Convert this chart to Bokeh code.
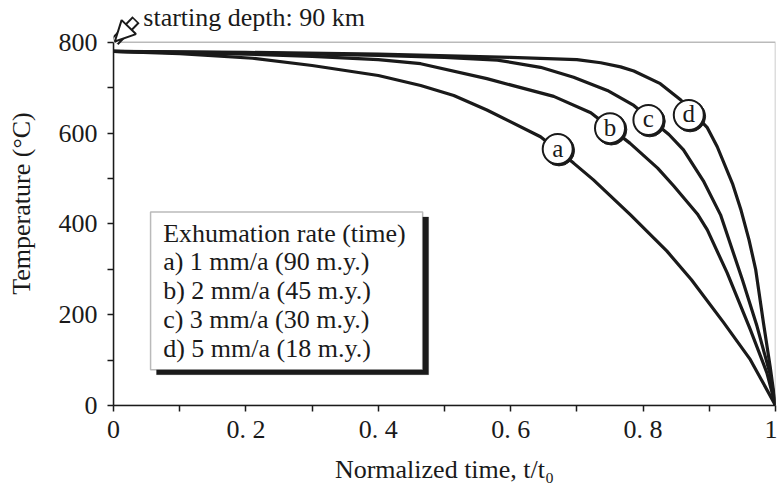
from bokeh.plotting import figure
from bokeh.models import (FixedTicker, Label, Arrow, NormalHead, BoxAnnotation,
                          Range1d, ColumnDataSource)
from bokeh.transform import dodge
from bokeh.core.properties import value
from bokeh.embed import file_html
from bokeh.resources import INLINE

# ---- data ----
t_a = [0, 0.1, 0.21, 0.30, 0.40, 0.464, 0.514, 0.564, 0.645, 0.695, 0.725,
       0.781, 0.836, 0.873, 0.922, 0.962, 1.0]
T_a = [780, 775, 765, 749, 727, 705, 683, 651, 592, 534, 497,
       420, 340, 277, 182, 101, 0]

t_b = [0, 0.2, 0.3, 0.4, 0.464, 0.564, 0.665, 0.721, 0.780, 0.822, 0.846,
       0.882, 0.897, 0.927, 0.962, 0.987, 1.0]
T_b = [780, 774, 769, 762, 753, 720, 681, 645, 578, 523, 484,
       422, 387, 292, 167, 72, 0]

t_c = [0, 0.2, 0.4, 0.5, 0.58, 0.645, 0.695, 0.746, 0.786, 0.839, 0.861,
       0.891, 0.917, 0.95, 0.972, 0.992, 1.0]
T_c = [780, 777, 771, 767, 761, 745, 723, 694, 661, 597, 563,
       495, 420, 277, 175, 68, 0]

t_d = [0, 0.2, 0.4, 0.6, 0.70, 0.736, 0.766, 0.786, 0.826, 0.857, 0.897,
       0.912, 0.935, 0.948, 0.96, 0.97, 0.982, 0.992, 1.0]
T_d = [780, 778, 774, 767, 762, 755, 746, 737, 709, 673, 612,
       570, 489, 430, 365, 300, 180, 85, 0]

curve_tags = ["a", "b", "c", "d"]
tag_x = [0.671, 0.750, 0.808, 0.869]
tag_y = [565, 611, 629, 640]

legend_title = "Exhumation rate (time)"
legend_entries = ["a) 1 mm/a (90 m.y.)", "b) 2 mm/a (45 m.y.)",
                  "c) 3 mm/a (30 m.y.)", "d) 5 mm/a (18 m.y.)"]

xtick_vals = [0, 0.2, 0.4, 0.6, 0.8, 1.0]
xtick_labels = ["0", "0. 2", "0. 4", "0. 6", "0. 8", "1"]
xminor_vals = [0.1, 0.3, 0.5, 0.7, 0.9]
ytick_vals = [0, 200, 400, 600, 800]
yminor_vals = [100, 300, 500, 700]
y_max = 800

annotation_text = "starting depth: 90 km"

FONT = "Liberation Serif"
INK = "#1a1a1a"

p = figure(width=777, height=486, output_backend="svg", toolbar_location=None,
           x_range=Range1d(0, 1), y_range=Range1d(0, 890),
           min_border_left=113, min_border_right=2, min_border_top=1,
           min_border_bottom=80)

p.background_fill_color = "white"
p.border_fill_color = "white"
p.outline_line_color = None
p.xgrid.grid_line_color = None
p.ygrid.grid_line_color = None

p.xaxis.ticker = FixedTicker(ticks=xtick_vals, minor_ticks=xminor_vals)
p.xaxis.major_label_overrides = {v: s for v, s in zip(xtick_vals, xtick_labels)}
p.yaxis.ticker = FixedTicker(ticks=ytick_vals, minor_ticks=yminor_vals)
p.yaxis.bounds = (0, y_max)

for ax in (p.xaxis[0], p.yaxis[0]):
    ax.axis_line_color = INK
    ax.axis_line_width = 1.5
    ax.major_tick_line_color = INK
    ax.minor_tick_line_color = INK
    ax.major_tick_line_width = 1.5
    ax.minor_tick_line_width = 1.5
    ax.major_tick_in = 0
    ax.major_tick_out = 6
    ax.minor_tick_in = 0
    ax.minor_tick_out = 6
    ax.major_label_text_font = FONT
    ax.major_label_text_font_size = "26px"
    ax.major_label_text_color = INK
    ax.axis_label_text_font = FONT
    ax.axis_label_text_font_size = "26px"
    ax.axis_label_text_font_style = "normal"
    ax.axis_label_text_color = INK

p.xaxis.axis_label = "Normalized time, t/t\u2080"
p.yaxis.axis_label = "Temperature (\u00b0C)"
p.xaxis.major_label_standoff = 3
p.xaxis.axis_label_standoff = 8
p.yaxis.major_label_standoff = 10
p.yaxis.axis_label_standoff = 20

# plot box (top and right edges at the data limits)
p.add_layout(BoxAnnotation(left=0, right=1, bottom=0, top=y_max,
                           fill_alpha=0, line_color=INK, line_width=1.5))

# curves
for tx, ty in ((t_a, T_a), (t_b, T_b), (t_c, T_c), (t_d, T_d)):
    p.line(tx, ty, line_width=3.2, line_color=INK, line_join="round")

# curve tags (circled letters)
src = ColumnDataSource(dict(x=tag_x, y=tag_y, text=curve_tags))
p.scatter(x=dodge("x", 0.002), y=dodge("y", -3), source=src, size=31,
          fill_color=INK, line_color=INK)
p.scatter(x="x", y="y", source=src, size=30, fill_color="white",
          line_color=INK, line_width=2)
p.text(x="x", y="y", text="text", source=src, text_align="center",
       text_baseline="middle", text_font=value(FONT), text_font_size="25px",
       text_color=INK, y_offset=-1)

# legend box with shadow
p.add_layout(BoxAnnotation(left=0.065, right=0.476, bottom=68, top=415,
                           fill_color=INK, fill_alpha=1, line_color=INK))
p.add_layout(BoxAnnotation(left=0.056, right=0.467, bottom=79, top=426,
                           fill_color="white", fill_alpha=1, line_color=INK,
                           line_width=1.5))
leg_lines = [legend_title] + legend_entries
for i, s in enumerate(leg_lines):
    p.add_layout(Label(x=0.075, y=380 - i * 63.5, text=s, text_font=FONT,
                       text_font_size="26px", text_color=INK,
                       text_baseline="middle"))

# starting-depth annotation with hollow arrow
xs, ys, xe, ye = 0.034, 850, 0.002, 802
p.add_layout(Arrow(x_start=xs, y_start=ys, x_end=xe, y_end=ye, end=None,
                   line_width=10, line_color=INK))
p.add_layout(Arrow(x_start=xs - 0.0017, y_start=ys - 2.7, x_end=xe, y_end=ye,
                   end=None, line_width=6, line_color="white"))
p.add_layout(Arrow(x_start=xs, y_start=ys, x_end=xe, y_end=ye, line_alpha=0,
                   end=NormalHead(size=20, fill_color="white", line_color=INK,
                                  line_width=2)))
p.add_layout(Label(x=0.045, y=855, text=annotation_text, text_font=FONT,
                   text_font_size="26px", text_color=INK,
                   text_baseline="middle"))

open("out.html", "w").write(file_html(p, INLINE))
